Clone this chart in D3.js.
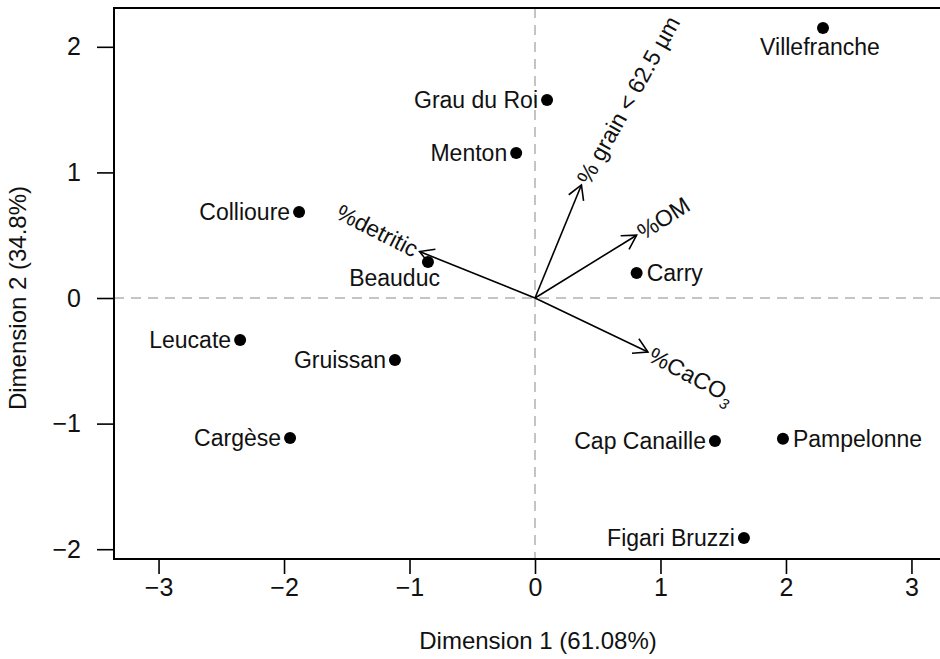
<!DOCTYPE html>
<html>
<head>
<meta charset="utf-8">
<script src="https://cdn.jsdelivr.net/npm/d3@7"></script>
<style>
  html, body { margin: 0; padding: 0; background: #fff; }
  svg { display: block; font-family: "Liberation Sans", Arial, Helvetica, sans-serif; }
</style>
</head>
<body>
<svg id="chart" width="940" height="659"></svg>
<script>
// ---- data ----
const sites = ["Villefranche", "Grau du Roi", "Menton", "Collioure", "Beauduc", "Carry",
               "Leucate", "Gruissan", "Cargèse", "Cap Canaille", "Pampelonne", "Figari Bruzzi"];
const dim1 = [2.295, 0.096, -0.15, -1.88, -0.853, 0.81, -2.35, -1.116, -1.952, 1.434, 1.976, 1.665];
const dim2 = [2.15, 1.576, 1.155, 0.685, 0.287, 0.199, -0.334, -0.494, -1.115, -1.139, -1.12, -1.911];
const labelSide = ["below", "left", "left", "left", "belowleft", "right",
                   "left", "left", "left", "left", "right", "left"];

const variables = ["% grain < 62.5 µm", "%OM", "%detritic", "%CaCO"];
const variableSub = ["", "", "", "3"];
const load1 = [0.37, 0.81, -0.92, 0.90];
const load2 = [0.90, 0.50, 0.37, -0.43];
const labelAngle = [-61, -33, 27, 28];   // text rotation (degrees)

const xTicks = [-3, -2, -1, 0, 1, 2, 3];
const yTicks = [-2, -1, 0, 1, 2];
const xTitle = "Dimension 1 (61.08%)";
const yTitle = "Dimension 2 (34.8%)";

// ---- layout ----
const svg = d3.select("#chart");
const pLeft = 114, pTop = 8, pBottom = 559, pRight = 956;
const x = d3.scaleLinear().domain([-3.355, 3.355]).range([pLeft, pRight]);
const y = d3.scaleLinear().domain([-2.078, 2.309]).range([pBottom, pTop]);

const fmt = d3.format("");
const FONT = 23;

// reference lines
svg.append("line")
  .attr("x1", x(0)).attr("x2", x(0)).attr("y1", pTop).attr("y2", pBottom)
  .attr("stroke", "#c4c4c4").attr("stroke-width", 2).attr("stroke-dasharray", "10,7");
svg.append("line")
  .attr("x1", pLeft).attr("x2", pRight).attr("y1", y(0)).attr("y2", y(0))
  .attr("stroke", "#c4c4c4").attr("stroke-width", 2).attr("stroke-dasharray", "10,7");

// x axis
const xAxis = d3.axisBottom(x).tickValues(xTicks).tickSize(15).tickPadding(4).tickFormat(fmt);
const gx = svg.append("g").attr("transform", `translate(0,${pBottom})`).call(xAxis);
gx.select(".domain").remove();
gx.selectAll(".tick line").attr("stroke", "#000").attr("stroke-width", 1.6);
gx.selectAll(".tick text").attr("font-size", 25).attr("fill", "#111")
  .attr("font-family", "Liberation Sans, Arial, sans-serif");

// y axis
const yAxis = d3.axisLeft(y).tickValues(yTicks).tickSize(17).tickPadding(16).tickFormat(fmt);
const gy = svg.append("g").attr("transform", `translate(${pLeft},0)`).call(yAxis);
gy.select(".domain").remove();
gy.selectAll(".tick line").attr("stroke", "#000").attr("stroke-width", 1.6);
gy.selectAll(".tick text").attr("font-size", 25).attr("fill", "#111")
  .attr("font-family", "Liberation Sans, Arial, sans-serif");

// box
svg.append("rect")
  .attr("x", pLeft).attr("y", pTop).attr("width", pRight - pLeft).attr("height", pBottom - pTop)
  .attr("fill", "none").attr("stroke", "#000").attr("stroke-width", 2);

// axis titles
svg.append("text").attr("x", x(0) + 3).attr("y", 649).attr("text-anchor", "middle")
  .attr("font-size", 24).attr("fill", "#111").text(xTitle);
svg.append("text").attr("transform", `translate(26,${y(0)}) rotate(-90)`)
  .attr("text-anchor", "middle").attr("font-size", 24).attr("fill", "#111").text(yTitle);

// arrows
const arrowG = svg.append("g");
variables.forEach((name, i) => {
  const x0 = x(0), y0 = y(0);
  const x1 = x(load1[i]), y1 = y(load2[i]);
  const ang = Math.atan2(y1 - y0, x1 - x0);
  arrowG.append("line").attr("x1", x0).attr("y1", y0).attr("x2", x1).attr("y2", y1)
    .attr("stroke", "#000").attr("stroke-width", 1.6);
  const hl = 16, ha = Math.PI / 6;
  const p = d3.path();
  p.moveTo(x1 - hl * Math.cos(ang - ha), y1 - hl * Math.sin(ang - ha));
  p.lineTo(x1, y1);
  p.lineTo(x1 - hl * Math.cos(ang + ha), y1 - hl * Math.sin(ang + ha));
  arrowG.append("path").attr("d", p.toString()).attr("fill", "none")
    .attr("stroke", "#000").attr("stroke-width", 1.6);

  const pointsLeft = Math.cos(ang) < 0;
  const off = 3;
  const tx = x1 + off * Math.cos(ang), ty = y1 + off * Math.sin(ang);
  const t = arrowG.append("text")
    .attr("transform", `translate(${tx},${ty}) rotate(${labelAngle[i]})`)
    .attr("text-anchor", pointsLeft ? "end" : "start")
    .attr("dy", "0.36em")
    .attr("font-size", FONT).attr("fill", "#111");
  t.append("tspan").text(name);
  if (variableSub[i]) {
    t.append("tspan").attr("dy", "0.45em").attr("font-size", 15).attr("font-style", "italic")
      .text(variableSub[i]);
  }
});

// points
const pts = svg.append("g");
sites.forEach((s, i) => {
  const px = x(dim1[i]), py = y(dim2[i]);
  pts.append("circle").attr("cx", px).attr("cy", py).attr("r", 6).attr("fill", "#000");
  const lab = pts.append("text").attr("font-size", FONT).attr("fill", "#111").text(s);
  const side = labelSide[i];
  if (side === "left") {
    lab.attr("x", px - 9).attr("y", py).attr("dy", "0.36em").attr("text-anchor", "end");
  } else if (side === "right") {
    lab.attr("x", px + 10).attr("y", py).attr("dy", "0.36em").attr("text-anchor", "start");
  } else if (side === "below") {
    lab.attr("x", px - 3).attr("y", py + 27).attr("text-anchor", "middle");
  } else if (side === "belowleft") {
    lab.attr("x", px + 12).attr("y", py + 24).attr("text-anchor", "end");
  }
});
</script>
</body>
</html>
